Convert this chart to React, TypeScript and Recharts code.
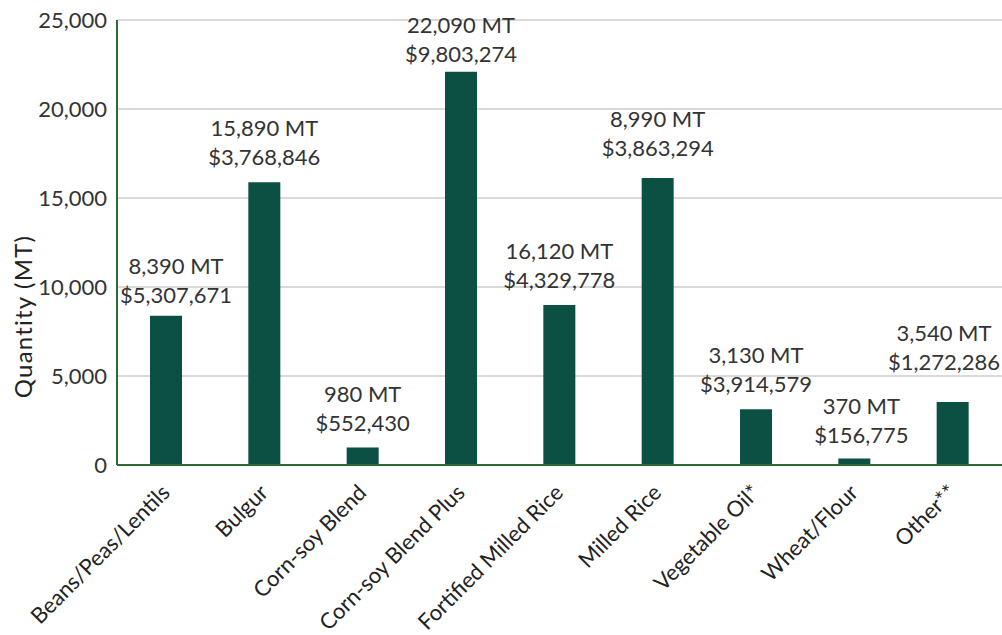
import { Bar, BarChart, CartesianGrid, LabelList, XAxis, YAxis } from 'recharts'

const categories = [
  'Beans/Peas/Lentils',
  'Bulgur',
  'Corn-soy Blend',
  'Corn-soy Blend Plus',
  'Fortified Milled Rice',
  'Milled Rice',
  'Vegetable Oil*',
  'Wheat/Flour',
  'Other**',
]
const quantities = [8390, 15890, 980, 22090, 8990, 16120, 3130, 370, 3540]
const mtLabels = ['8,390 MT', '15,890 MT', '980 MT', '22,090 MT', '16,120 MT', '8,990 MT', '3,130 MT', '370 MT', '3,540 MT']
const usdLabels = ['$5,307,671', '$3,768,846', '$552,430', '$9,803,274', '$4,329,778', '$3,863,294', '$3,914,579', '$156,775', '$1,272,286']
const yTicks = [0, 5000, 10000, 15000, 20000, 25000]

const data = categories.map((name, i) => ({ name, qty: quantities[i] }))

// hand-placed label nudges from the original chart (px)
const labelNudgeX = [0, 0, 0, 0, 0, 0, 0, 7, 0]
const labelNudgeY = [4, 0, 0, 7, 0, -5, 0, 2, -15]

const FONT = 'Lato, "Open Sans", sans-serif'
const LABEL_SIZE = 22
const PLOT_LEFT = 117
const PLOT_RIGHT = 1000

let ctx: CanvasRenderingContext2D | null = null
function textWidth(s: string) {
  if (!ctx) ctx = document.createElement('canvas').getContext('2d')
  if (!ctx) return s.length * LABEL_SIZE * 0.5
  ctx.font = `${LABEL_SIZE}px Lato`
  return ctx.measureText(s).width
}

function TwoLineLabel(props: any) {
  const { x, y, width, index } = props
  const half = Math.max(textWidth(mtLabels[index]), textWidth(usdLabels[index])) / 2
  let cx = x + width / 2 + labelNudgeX[index]
  cx = Math.max(PLOT_LEFT + half + 3, Math.min(PLOT_RIGHT - half, cx))
  const base = y - 17 + labelNudgeY[index]
  return (
    <text x={cx} textAnchor="middle" fontFamily={FONT} fontSize={LABEL_SIZE} fill="#333">
      <tspan x={cx} y={base - 29}>{mtLabels[index]}</tspan>
      <tspan x={cx} y={base}>{usdLabels[index]}</tspan>
    </text>
  )
}

function XTick(props: any) {
  const { x, y, payload } = props
  return (
    <text
      x={x + 5}
      y={y + 21}
      transform={`rotate(-45 ${x + 5} ${y + 21})`}
      textAnchor="end"
      fontFamily={FONT}
      fontSize={22}
      fill="#222"
    >
      {payload.value}
    </text>
  )
}

export default function App() {
  return (
    <div style={{ position: 'absolute', left: 0, top: 0, width: 1002, height: 635, background: '#fff' }}>
      <BarChart width={1002} height={635} data={data} margin={{ top: 20, right: 0, bottom: 0, left: 0 }}>
        <CartesianGrid vertical={false} stroke="#d9d9d9" strokeWidth={2} />
        <XAxis
          dataKey="name"
          height={170}
          interval={0}
          tickLine={false}
          axisLine={{ stroke: '#2b6a35', strokeWidth: 2 }}
          tick={<XTick />}
        />
        <YAxis
          width={117}
          domain={[0, 25000]}
          ticks={yTicks}
          tickLine={false}
          axisLine={{ stroke: '#2b6a35', strokeWidth: 2 }}
          tickFormatter={(v: number) => v.toLocaleString('en-US')}
          tick={{ fontFamily: FONT, fontSize: 22, fill: '#333' }}
          tickMargin={4}
          label={{
            value: 'Quantity (MT)',
            angle: -90,
            position: 'insideLeft',
            dx: 18,
            dy: 74,
            style: { fontFamily: FONT, fontSize: 24, letterSpacing: 1.2, fill: '#222', textAnchor: 'middle' },
          }}
        />
        <Bar dataKey="qty" fill="#0c4f43" barSize={32} isAnimationActive={false}>
          <LabelList dataKey="qty" content={<TwoLineLabel />} />
        </Bar>
      </BarChart>
    </div>
  )
}
